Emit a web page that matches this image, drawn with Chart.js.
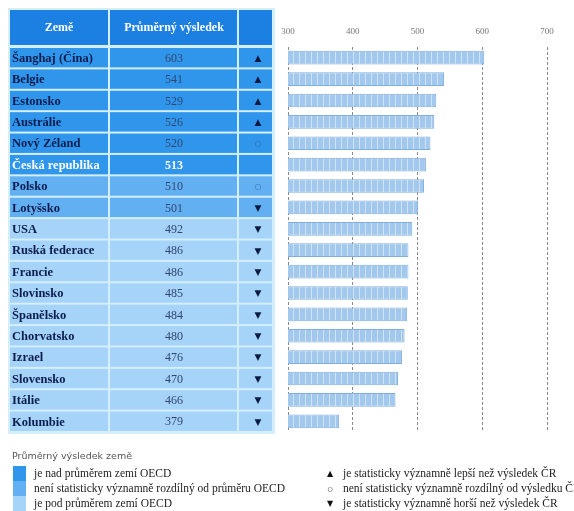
<!DOCTYPE html>
<html>
<head>
<meta charset="utf-8">
<script src="https://cdn.jsdelivr.net/npm/chart.js@4"></script>
<style>
  html, body { margin: 0; padding: 0; background: #fff; }
  #wrap { position: relative; width: 574px; height: 511px; }
</style>
</head>
<body>
<div id="wrap"><canvas id="pisa" width="574" height="511"></canvas></div>
<script>
// data
const countries = ["Šanghaj (Čína)", "Belgie", "Estonsko", "Austrálie", "Nový Zéland", "Česká republika",
  "Polsko", "Lotyšsko", "USA", "Ruská federace", "Francie", "Slovinsko", "Španělsko", "Chorvatsko",
  "Izrael", "Slovensko", "Itálie", "Kolumbie"];
const scores = [603, 541, 529, 526, 520, 513, 510, 501, 492, 486, 486, 485, 484, 480, 476, 470, 466, 379];
// vs OECD average: 0 above, 1 not different, 2 below
const vsOecd = [0, 0, 0, 0, 0, 0, 1, 1, 2, 2, 2, 2, 2, 2, 2, 2, 2, 2];
// vs Czech result
const vsCz = ["▲", "▲", "▲", "▲", "○", "", "○", "▼", "▼", "▼", "▼", "▼", "▼", "▼", "▼", "▼", "▼", "▼"];
const xTicks = [300, 400, 500, 600, 700];

const rowColors = ["#3096ec", "#62b0f2", "#a6d3f8"];
const headColor = "#1c80e2";
const serif = "'Liberation Serif', 'DejaVu Serif', serif";

// striped bar fill
const pc = document.createElement("canvas");
pc.width = 6; pc.height = 20;
const p = pc.getContext("2d");
p.fillStyle = "#a2c8ee"; p.fillRect(0, 0, 6, 20);
p.fillStyle = "#d0e4f7"; p.fillRect(5, 0, 1, 20);
const barFill = document.getElementById("pisa").getContext("2d").createPattern(pc, "repeat");

const tablePlugin = {
  id: "table",
  beforeDraw(chart) {
    const ctx = chart.ctx;
    const y = chart.scales.y;
    const half = (y.getPixelForValue(1) - y.getPixelForValue(0)) / 2;
    const cols = [[10, 108], [110, 237], [239, 272]];
    const top = y.getPixelForValue(0) - half;
    const bottom = y.getPixelForValue(countries.length - 1) + half;
    ctx.save();
    ctx.fillStyle = "#d4eefc";
    ctx.fillRect(8, 8, 267, bottom - 8 + 2);
    // header
    cols.forEach(c => { ctx.fillStyle = headColor; ctx.fillRect(c[0], 10, c[1] - c[0], top - 12); });
    ctx.fillStyle = "#fff";
    ctx.font = "bold 12px " + serif;
    ctx.textAlign = "center"; ctx.textBaseline = "middle";
    ctx.fillText("Země", 59, 28);
    ctx.fillText("Průměrný výsledek", 174, 28);
    countries.forEach((name, i) => {
      const c = y.getPixelForValue(i);
      const isCz = i === 5;
      cols.forEach(col => {
        ctx.fillStyle = rowColors[vsOecd[i]];
        ctx.fillRect(col[0], c - half + 1, col[1] - col[0], 2 * half - 2);
      });
      ctx.textBaseline = "middle";
      ctx.textAlign = "left";
      ctx.font = "bold 12.5px " + serif;
      ctx.fillStyle = isCz ? "#fff" : "#0b1c4e";
      ctx.fillText(name, 12, c + 1);
      ctx.textAlign = "center";
      ctx.font = (isCz ? "bold " : "") + "12px " + serif;
      ctx.fillStyle = isCz ? "#fff" : "#33466f";
      ctx.fillText(String(scores[i]), 174, c + 1);
      if (vsCz[i]) {
        const circ = vsCz[i] === "○";
        ctx.font = (circ ? "8px " : "9px ") + "'DejaVu Sans', sans-serif";
        ctx.fillStyle = circ ? "#3a5f9a" : "#0a1a40";
        ctx.fillText(vsCz[i], 258, c + 1);
      }
    });
    ctx.restore();
  },
  afterDraw(chart) {
    const ctx = chart.ctx;
    ctx.save();
    ctx.textBaseline = "middle"; ctx.textAlign = "left";
    ctx.font = "9.5px 'DejaVu Sans', sans-serif";
    ctx.fillStyle = "#555";
    ctx.fillText("Průměrný výsledek země", 12, 457);
    const legendLeft = ["je nad průměrem zemí OECD",
      "není statisticky významně rozdílný od průměru OECD",
      "je pod průměrem zemí OECD"];
    legendLeft.forEach((t, i) => {
      ctx.fillStyle = rowColors[i];
      ctx.fillRect(13, 466 + i * 15, 13, 15);
      ctx.fillStyle = "#222";
      ctx.font = "11.5px " + serif;
      ctx.fillText(t, 34, 474 + i * 15);
    });
    const legendRight = [["▲", "je statisticky významně lepší než výsledek ČR"],
      ["○", "není statisticky významně rozdílný od výsledku ČR"],
      ["▼", "je statisticky významně horší než výsledek ČR"]];
    legendRight.forEach((t, i) => {
      ctx.fillStyle = "#111";
      ctx.textAlign = "center";
      ctx.font = (t[0] === "○" ? "6px " : "8px ") + "'DejaVu Sans', sans-serif";
      ctx.fillText(t[0], 330, 474 + i * 15);
      ctx.textAlign = "left";
      ctx.font = "11.5px " + serif;
      ctx.fillStyle = "#222";
      ctx.fillText(t[1], 343, 474 + i * 15);
    });
    ctx.restore();
  }
};

new Chart(document.getElementById("pisa"), {
  type: "bar",
  data: {
    labels: countries,
    datasets: [{
      data: scores,
      backgroundColor: barFill,
      borderColor: "#80afde",
      borderWidth: 1,
      borderSkipped: false,
      categoryPercentage: 1,
      barPercentage: 0.64
    }]
  },
  options: {
    indexAxis: "y",
    responsive: false,
    animation: false,
    layout: { padding: { left: 288, right: 27, top: 20, bottom: 79 } },
    plugins: { legend: { display: false }, tooltip: { enabled: false }, title: { display: false } },
    scales: {
      x: {
        position: "top",
        min: 300,
        max: 700,
        afterBuildTicks(scale) { scale.ticks = xTicks.map(v => ({ value: v })); },
        afterFit(scale) { scale.height = 27; },
        ticks: { padding: 10, color: "#777", font: { family: serif, size: 9 } },
        grid: { color: "#8a8a8a", lineWidth: 1, drawTicks: false },
        border: { display: false, dash: [3, 2] }
      },
      y: { display: false, grid: { display: false } }
    }
  },
  plugins: [tablePlugin]
});
</script>
</body>
</html>
